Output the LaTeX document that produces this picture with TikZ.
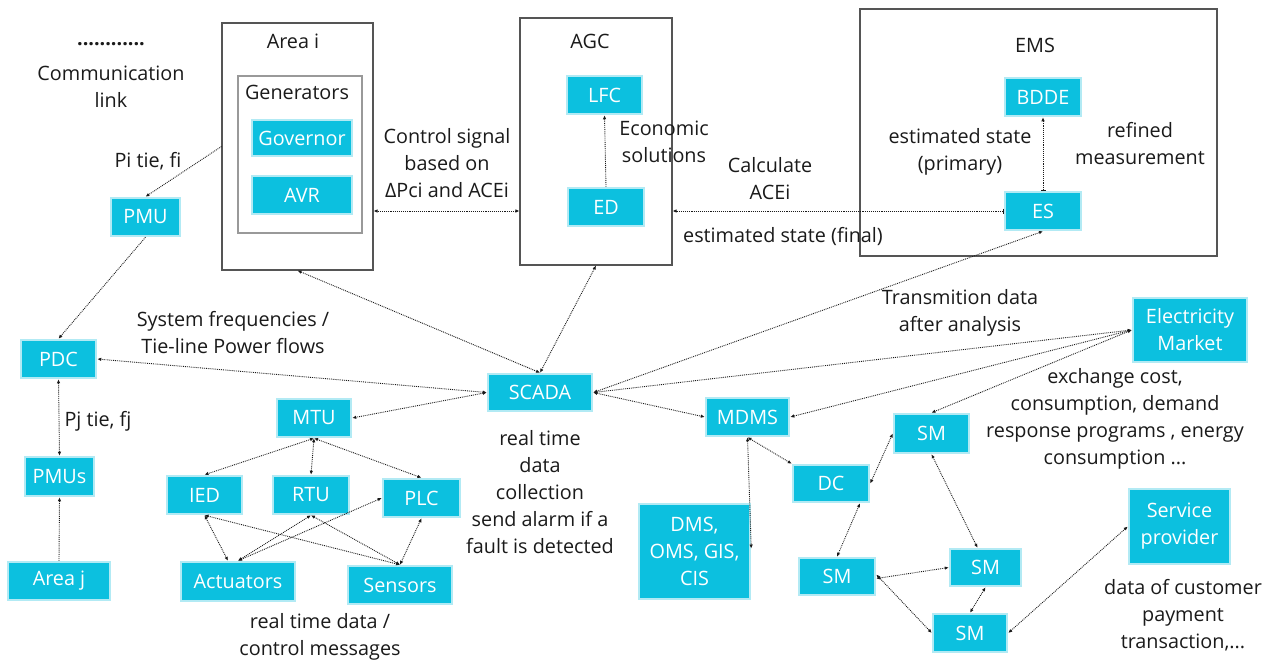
\documentclass[tikz,border=0pt]{standalone}
\usepackage{fontspec}
\setmainfont{Open Sans}
\usetikzlibrary{arrows.meta,calc}
\definecolor{boxfill}{HTML}{0CC0DF}
\definecolor{boxedge}{HTML}{B2EAF4}
\definecolor{ink}{HTML}{1A1A1A}
\definecolor{frame}{HTML}{555555}
\tikzset{
  cbox/.style={draw=boxedge, line width=2.5pt, fill=boxfill, text=white, align=center,
    inner sep=0pt, font=\fontsize{19.8}{27}\selectfont},
  obox/.style={draw=frame, line width=1.1pt, inner sep=0pt},
  lbl/.style={text=ink, align=center, inner sep=0pt, font=\fontsize{19.8}{27}\selectfont},
  link/.style={densely dotted, line width=0.9pt, ink, {Latex[length=4pt,width=3.5pt]}-{Latex[length=4pt,width=3.5pt]}},
  link1/.style={densely dotted, line width=0.9pt, ink, -{Latex[length=4pt,width=3.5pt]}},
}
\begin{document}
\begin{tikzpicture}[x=1pt,y=-1pt]
\useasboundingbox (0,0) rectangle (1274,661);
% outline frames
\node[obox, minimum width=151, minimum height=247] (areai) at (297.5,146.5) {};
\node[obox, draw=gray!80, minimum width=124, minimum height=157] (gens) at (300,154.5) {};
\node[obox, minimum width=152, minimum height=247] (agc) at (596,141.5) {};
\node[obox, minimum width=357, minimum height=247] (ems) at (1038.5,132.5) {};
% frame titles
\node[lbl] (tareai) at (293,41) {Area i};
\node[lbl] (tgens) at (297,92) {Generators};
\node[lbl] (tagc) at (590,41) {AGC};
\node[lbl] (tems) at (1035,45) {EMS};
% cyan boxes
\node[cbox, minimum width=100, minimum height=36] (gov) at (302,138) {Governor};
\node[cbox, minimum width=100, minimum height=38] (avr) at (302,195) {AVR};
\node[cbox, minimum width=69, minimum height=38] (pmu) at (145.5,217) {PMU};
\node[cbox, minimum width=75, minimum height=38] (pdc) at (58.5,359) {PDC};
\node[cbox, minimum width=69, minimum height=39] (pmus) at (59.5,476.5) {PMUs};
\node[cbox, minimum width=102, minimum height=38] (areaj) at (59,581) {Area j};
\node[cbox, minimum width=104, minimum height=37] (scada) at (540,392.5) {SCADA};
\node[cbox, minimum width=74, minimum height=38] (mtu) at (314,418) {MTU};
\node[cbox, minimum width=75, minimum height=38] (ied) at (204.5,495) {IED};
\node[cbox, minimum width=76, minimum height=38] (rtu) at (311,495) {RTU};
\node[cbox, minimum width=77, minimum height=38] (plc) at (421.5,498) {PLC};
\node[cbox, minimum width=114, minimum height=39] (act) at (238,581.5) {Actuators};
\node[cbox, minimum width=104, minimum height=38] (sens) at (400,585) {Sensors};
\node[cbox, minimum width=75, minimum height=38] (lfc) at (604.5,95) {LFC};
\node[cbox, minimum width=76, minimum height=38] (ed) at (606,207) {ED};
\node[cbox, minimum width=76, minimum height=38] (bdde) at (1043,97) {BDDE};
\node[cbox, minimum width=76, minimum height=38] (es) at (1043,211) {ES};
\node[cbox, minimum width=114, minimum height=64] (em) at (1190,330) {Electricity\\Market};
\node[cbox, minimum width=83, minimum height=38] (mdms) at (747.5,417) {MDMS};
\node[cbox, minimum width=111, minimum height=95] (dms) at (694.5,551.5) {DMS,\\OMS, GIS,\\CIS};
\node[cbox, minimum width=76, minimum height=37] (dc) at (831,483.5) {DC};
\node[cbox, minimum width=75, minimum height=39] (sm1) at (931.5,433.5) {SM};
\node[cbox, minimum width=76, minimum height=37] (sm2) at (837,576.5) {SM};
\node[cbox, minimum width=71, minimum height=37] (sm3) at (985.5,567.5) {SM};
\node[cbox, minimum width=74, minimum height=38] (sm4) at (970,633) {SM};
\node[cbox, minimum width=101, minimum height=75] (sp) at (1179.5,526.5) {Service\\provider};
% labels
\node[lbl, font=\fontsize{19.8}{27}\selectfont\bfseries] (dots) at (111,44) {............};
\node[lbl] (tcomm) at (111,86.5) {Communication\\link};
\node[lbl] (tpi) at (148,161) {Pi tie, fi};
\node[lbl] (tctrl) at (447,163) {Control signal\\based on\\ΔPci and ACEi};
\node[lbl] (tecon) at (664,141.5) {Economic\\solutions};
\node[lbl] (tcalc) at (770,179) {Calculate\\ACEi};
\node[lbl] (tfinal) at (783,236) {estimated state (final)};
\node[lbl] (tprim) at (960,151.5) {estimated state\\(primary)};
\node[lbl] (tref) at (1140,143.5) {refined\\measurement};
\node[lbl] (ttrans) at (960,313) {Transmition data\\after analysis};
\node[lbl] (tsys) at (233,333) {System frequencies /\\Tie-line Power flows};
\node[lbl] (tpj) at (98,421) {Pj tie, fj};
\node[lbl] (trt) at (540,492) {real time\\data\\collection\\send alarm if a\\fault is detected};
\node[lbl] (trtd) at (320,637) {real time data /\\control messages};
\node[lbl] (texch) at (1115,418.5) {exchange cost,\\consumption, demand\\response programs , energy\\consumption ...};
\node[lbl] (tcust) at (1183,615) {data of customer\\payment\\transaction,...};
% connectors
\draw[link1] (areai.west) -- (pmu.north);
\draw[link1] (pmu.south) -- (pdc.north);
\draw[link] (pdc.south) -- (pmus.north);
\draw[link1] (areaj.north) -- (pmus.south);
\draw[link] (scada.west) -- (pdc.east);
\draw[link] (scada.west) -- (mtu.east);
\draw[link] (mtu.south) -- (ied.north);
\draw[link] (mtu.south) -- (rtu.north);
\draw[link] (mtu.south) -- (plc.north);
\draw[link] (ied.south) -- ([xshift=-10pt]act.north);
\draw[link] (ied.south) -- (sens.north);
\draw[link] (rtu.south) -- (act.north);
\draw[link] (rtu.south) -- (sens.north);
\draw[link] (act.north) -- (plc.west);
\draw[link] (plc.south) -- (sens.north);
\draw[link] (scada.north) -- (areai.south);
\draw[link] (scada.north) -- (agc.south);
\draw[link] (agc.west |- es) -- (areai.east |- es);
\draw[link1] (ed.north) -- (lfc.south);
\draw[{Bar[width=5pt]}-{Latex[length=4pt,width=3.5pt]}, densely dotted, line width=0.9pt, ink] (es.west) -- (agc.east |- es);
\draw[{Bar[width=5pt]}-{Latex[length=4pt,width=3.5pt]}, densely dotted, line width=0.9pt, ink] (es.north) -- (bdde.south);
\draw[link] (scada.east) -- (es.south);
\draw[link] (scada.east) -- (em.west);
\draw[link] (scada.east) -- (mdms.west);
\draw[link] (em.west) -- (mdms.east);
\draw[link] (em.west) -- (sm1.north);
\draw[link] (mdms.south) -- ([yshift=3pt]dms.east);
\draw[link] (mdms.south) -- (dc.north west);
\draw[link] (dc.east) -- (sm1.west);
\draw[link] ([xshift=29pt]dc.south) -- (sm2.north);
\draw[link] (sm1.south) -- ([xshift=-8pt]sm3.north);
\draw[link] ([yshift=-2pt]sm2.east) -- (sm3.west);
\draw[link] (sm3.south) -- (sm4.north);
\draw[link] ([yshift=2pt]sm2.east) -- (sm4.west);
\draw[link] (sm4.east) -- (sp.west);
\end{tikzpicture}
\end{document}
